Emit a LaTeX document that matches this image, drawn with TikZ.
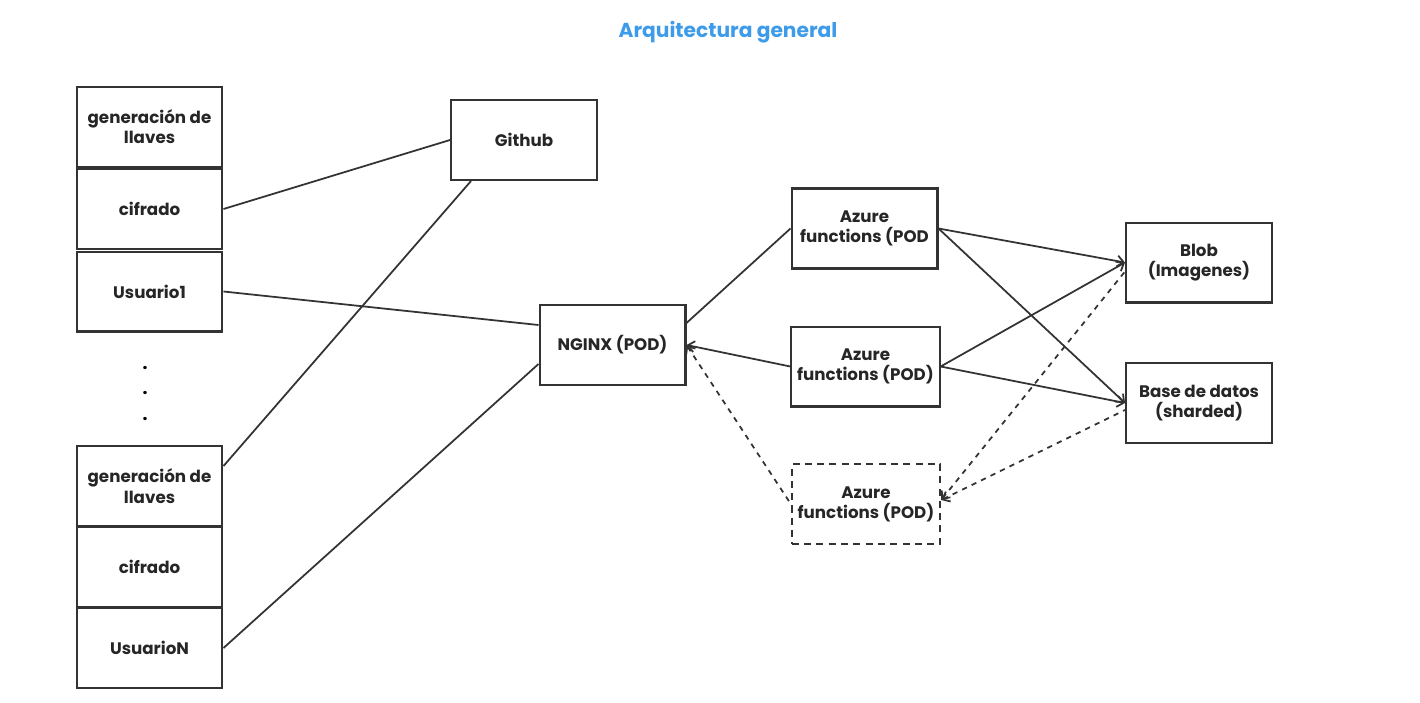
\documentclass[tikz,border=0pt]{standalone}
\usepackage{fontspec}
\setmainfont{Poppins}
\usetikzlibrary{arrows.meta}
\definecolor{trazo}{HTML}{333333}
\definecolor{titulo}{HTML}{3D9BE9}
\tikzset{
  caja/.style={draw=trazo, line width=1.15pt, minimum width=2.92cm, minimum height=1.6cm,
    align=center, font=\fontsize{9.5}{11.5}\selectfont\bfseries, text=black!85},
  cajapunteada/.style={caja, dashed, dash pattern=on 4pt off 3pt},
  enlace/.style={draw=trazo, line width=1pt},
  punta/.style={-{Straight Barb[length=1.3mm,width=2.2mm]}},
}
\begin{document}
\begin{tikzpicture}[x=0.02cm, y=-0.02cm]
\useasboundingbox (0,0) rectangle (1420,703);
\node[font=\fontsize{11.5}{13}\selectfont\bfseries, text=titulo] (titulo) at (728,32) {Arquitectura general};
% usuario 1
\node[caja] (gen1) at (149.5,127) {generación de\\llaves};
\node[caja] (cif1) at (149.5,209) {cifrado};
\node[caja] (usr1) at (149.5,291.5) {Usuario1};
\node[font=\bfseries] (p1) at (145,368) {.};
\node[font=\bfseries] (p2) at (145,393) {.};
\node[font=\bfseries] (p3) at (145,419) {.};
% usuario N
\node[caja] (gen2) at (149.5,486) {generación de\\llaves};
\node[caja] (cif2) at (149.5,567) {cifrado};
\node[caja] (usrN) at (149.5,648) {UsuarioN};
% centro
\node[caja] (github) at (524,140) {Github};
\node[caja] (nginx) at (612.5,345) {NGINX (POD)};
\node[caja] (az1) at (864.5,228.5) {Azure\\functions (POD};
\node[caja] (az2) at (865.5,366.5) {Azure\\functions (POD)};
\node[cajapunteada] (az3) at (866,504) {Azure\\functions (POD)};
% almacenamiento
\node[caja] (blob) at (1199,262.5) {Blob\\(Imagenes)};
\node[caja] (base) at (1199,403) {Base de datos\\(sharded)};
% conexiones
\draw[enlace] (cif1.east) -- (github.west);
\draw[enlace] ([xshift=0.42cm]github.south west) -- ([yshift=0.4cm]gen2.east);
\draw[enlace] (usr1.east) -- ([yshift=0.4cm]nginx.west);
\draw[enlace] (usrN.east) -- ([yshift=-0.38cm]nginx.west);
\draw[enlace] ([yshift=0.44cm]nginx.east) -- (az1.west);
\draw[enlace, {Straight Barb[length=1.3mm,width=2.2mm]}-] (nginx.east) -- (az2.west);
\draw[enlace, dashed, {Straight Barb[length=1.3mm,width=2.2mm]}-] (nginx.east) -- (az3.west);
\draw[enlace, punta] (az1.east) -- (blob.west);
\draw[enlace, punta] (az1.east) -- (base.west);
\draw[enlace, punta] (az2.east) -- (blob.west);
\draw[enlace, punta] (az2.east) -- (base.west);
\draw[enlace, dashed, {Straight Barb[length=1.3mm,width=2.2mm]}-] ([yshift=0.08cm]az3.east) -- ([yshift=-0.18cm]blob.west);
\draw[enlace, dashed, {Straight Barb[length=1.3mm,width=2.2mm]}-] ([yshift=0.08cm]az3.east) -- ([yshift=-0.14cm]base.west);
\end{tikzpicture}
\end{document}
